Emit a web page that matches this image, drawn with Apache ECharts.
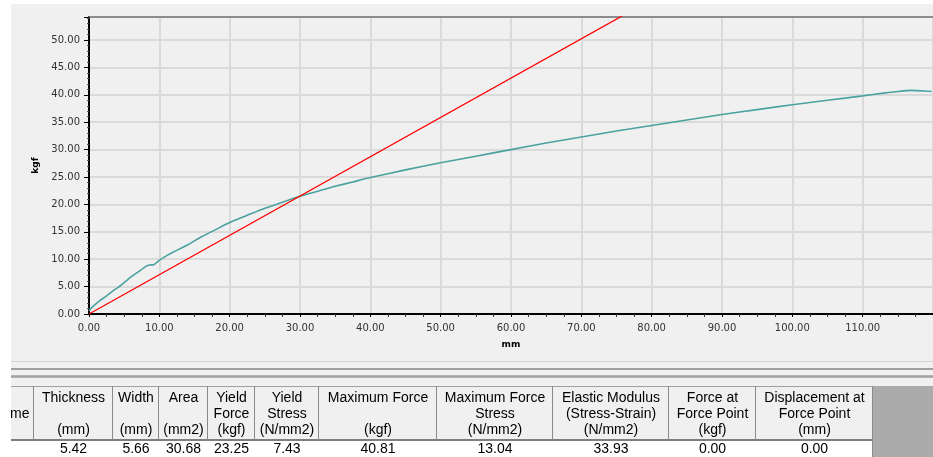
<!DOCTYPE html>
<html><head><meta charset="utf-8">
<script src="https://cdn.jsdelivr.net/npm/echarts@6/dist/echarts.min.js"></script>
<style>html,body{margin:0;padding:0;background:#fff}#c{width:933px;height:457px}</style>
</head><body><div id="c"></div><script>
// ---- chart data ----
const curveX = [0, 0.5, 1.5, 2.5, 3.5, 4.5, 5.8, 7.0, 8.1, 8.6, 9.2, 10.0, 11.0, 12.0, 14.0, 16.0, 18.0, 20.0, 22.5, 25.0, 27.5, 30.0, 32.5, 35.0, 37.5, 40.0, 45.0, 50.0, 55.0, 60.0, 65.0, 70.0, 75.0, 80.0, 85.0, 90.0, 95.0, 100.0, 105.0, 110.0, 113.0, 115.0, 117.0, 118.7, 119.8];
const curveY = [0.6, 1.3, 2.4, 3.3, 4.3, 5.2, 6.6, 7.7, 8.7, 8.95, 9.0, 9.8, 10.6, 11.3, 12.6, 14.1, 15.4, 16.7, 18.0, 19.3, 20.4, 21.5, 22.4, 23.3, 24.1, 24.9, 26.3, 27.6, 28.8, 30.0, 31.2, 32.3, 33.4, 34.4, 35.4, 36.4, 37.3, 38.2, 39.0, 39.8, 40.3, 40.6, 40.81, 40.7, 40.6];
const modulusX = [0, 80];
const modulusY = [0, 57.4];
const xTickValues = [0, 10, 20, 30, 40, 50, 60, 70, 80, 90, 100, 110];
const yTickValues = [0, 5, 10, 15, 20, 25, 30, 35, 40, 45, 50];
const xName = 'mm';
const yName = 'kgf';

// ---- table data ----
const headerLines = [
  ['', 'Name', ''],
  ['Thickness', '', '(mm)'],
  ['Width', '', '(mm)'],
  ['Area', '', '(mm2)'],
  ['Yield', 'Force', '(kgf)'],
  ['Yield', 'Stress', '(N/mm2)'],
  ['Maximum Force', '', '(kgf)'],
  ['Maximum Force', 'Stress', '(N/mm2)'],
  ['Elastic Modulus', '(Stress-Strain)', '(N/mm2)'],
  ['Force at', 'Force Point', '(kgf)'],
  ['Displacement at', 'Force Point', '(mm)']
];
const rowValues = ['', '5.42', '5.66', '30.68', '23.25', '7.43', '40.81', '13.04', '33.93', '0.00', '0.00'];

// ---- layout (positions only) ----
const colEdges = [11, 34, 113, 159, 208, 255, 319, 437, 553, 669, 756, 873];
const headTop = 386, headBottom = 440, rowBottom = 457;
const lineYs = [398.5, 414, 430.5];
const rowTextY = 449.5;
const tableFont = '14px "Liberation Sans", Arial, sans-serif';

const xStep = xTickValues[1] - xTickValues[0];
const yStep = yTickValues[1] - yTickValues[0];

const g = [];
// white margins
g.push({type: 'rect', shape: {x: 0, y: 0, width: 11, height: 457}, style: {fill: '#fff'}, z: 100});
g.push({type: 'rect', shape: {x: 0, y: 0, width: 933, height: 4}, style: {fill: '#fff'}, z: 100});
// separator lines
g.push({type: 'line', shape: {x1: 11, y1: 361.5, x2: 933, y2: 361.5}, style: {stroke: '#d2d2d2', lineWidth: 1}, z: 100});
g.push({type: 'line', shape: {x1: 11, y1: 369, x2: 933, y2: 369}, style: {stroke: '#a0a0a0', lineWidth: 2}, z: 100});
g.push({type: 'line', shape: {x1: 11, y1: 376.5, x2: 933, y2: 376.5}, style: {stroke: '#a0a0a0', lineWidth: 2.5}, z: 100});
// gray empty area right of table
g.push({type: 'rect', shape: {x: colEdges[colEdges.length - 1], y: headTop, width: 933 - colEdges[colEdges.length - 1], height: rowBottom - headTop}, style: {fill: '#ababab'}, z: 100});
// data row background
g.push({type: 'rect', shape: {x: colEdges[0], y: headBottom + 1, width: colEdges[colEdges.length - 1] - colEdges[0], height: rowBottom - headBottom}, style: {fill: '#ffffff'}, z: 100});
// header borders
g.push({type: 'line', shape: {x1: colEdges[0], y1: headTop + 0.5, x2: colEdges[colEdges.length - 1], y2: headTop + 0.5}, style: {stroke: '#a0a0a0', lineWidth: 1}, z: 101});
g.push({type: 'line', shape: {x1: colEdges[0], y1: headBottom, x2: colEdges[colEdges.length - 1], y2: headBottom}, style: {stroke: '#5a5a5a', lineWidth: 1.5}, z: 101});
for (let i = 1; i < colEdges.length; i++) {
  g.push({type: 'line', shape: {x1: colEdges[i] - 0.5, y1: headTop, x2: colEdges[i] - 0.5, y2: headBottom}, style: {stroke: '#8a8a8a', lineWidth: 1}, z: 101});
}
g.push({type: 'line', shape: {x1: colEdges[colEdges.length - 1] - 0.5, y1: headBottom, x2: colEdges[colEdges.length - 1] - 0.5, y2: rowBottom}, style: {stroke: '#8a8a8a', lineWidth: 1}, z: 101});
// header texts
headerLines.forEach((lines, c) => {
  const cx = (colEdges[c] + colEdges[c + 1]) / 2;
  lines.forEach((t, k) => {
    if (!t) return;
    const isName = c === 0;
    g.push({type: 'text', z: isName ? 99 : 102, style: {text: t, x: isName ? 29.5 : cx, y: lineYs[k], fill: '#000', font: tableFont, textAlign: isName ? 'right' : 'center', textVerticalAlign: 'middle', verticalAlign: 'middle'}});
  });
  if (rowValues[c]) {
    g.push({type: 'text', z: 102, style: {text: rowValues[c], x: cx, y: rowTextY, fill: '#000', font: tableFont, textAlign: 'center', textVerticalAlign: 'middle', verticalAlign: 'middle'}});
  }
});

const chart = echarts.init(document.getElementById('c'), null, {renderer: 'canvas'});
const axisFont = {fontFamily: '"DejaVu Sans", Verdana, sans-serif', fontSize: 10, color: '#333'};
chart.setOption({
  backgroundColor: '#f0f0f0',
  animation: false,
  grid: {left: 89, top: 17, width: 851, height: 297, containLabel: false},
  xAxis: [{
    type: 'value', min: xTickValues[0], max: 120, interval: xStep, position: 'bottom',
    name: xName, nameLocation: 'middle', nameGap: 26,
    nameTextStyle: {fontFamily: '"DejaVu Sans", Verdana, sans-serif', fontSize: 9, fontWeight: 'bold', color: '#000'},
    axisLine: {show: true, onZero: false, lineStyle: {color: '#000', width: 2}},
    axisTick: {show: true, length: 3, lineStyle: {color: '#000', width: 1}},
    minorTick: {show: true, splitNumber: 4, length: 3, lineStyle: {color: '#333', width: 1}},
    axisLabel: Object.assign({margin: 9, showMaxLabel: false, formatter: v => v.toFixed(2)}, axisFont),
    splitLine: {show: true, lineStyle: {color: '#dadada', width: 2}}
  }, {
    type: 'value', min: xTickValues[0], max: 120, position: 'top', show: true,
    axisLine: {show: true, onZero: false, lineStyle: {color: '#737373', width: 1.5}},
    axisTick: {show: false}, axisLabel: {show: false}, splitLine: {show: false}
  }],
  yAxis: {
    type: 'value', min: yTickValues[0], max: 54.2, interval: yStep,
    name: yName, nameLocation: 'middle', nameGap: 45,
    nameTextStyle: {fontFamily: '"DejaVu Sans", Verdana, sans-serif', fontSize: 9, fontWeight: 'bold', color: '#000'},
    axisLine: {show: true, onZero: false, lineStyle: {color: '#000', width: 2}},
    axisTick: {show: true, length: 5, lineStyle: {color: '#000', width: 1}},
    minorTick: {show: true, splitNumber: 5, length: 2, lineStyle: {color: '#555', width: 1}},
    axisLabel: Object.assign({margin: 9, showMaxLabel: false, formatter: v => v.toFixed(2)}, axisFont),
    splitLine: {show: true, lineStyle: {color: '#dadada', width: 2}}
  },
  series: [{
    type: 'line', xAxisIndex: 0, showSymbol: false, symbol: 'none', smooth: 0.2,
    data: curveX.map((x, i) => [x, curveY[i]]),
    lineStyle: {color: '#4aa29f', width: 1.6}, z: 3
  }, {
    type: 'line', xAxisIndex: 0, showSymbol: false, symbol: 'none',
    data: modulusX.map((x, i) => [x, modulusY[i]]),
    lineStyle: {color: '#ff0000', width: 1.3}, z: 4
  }],
  graphic: g
});
</script></body></html>
